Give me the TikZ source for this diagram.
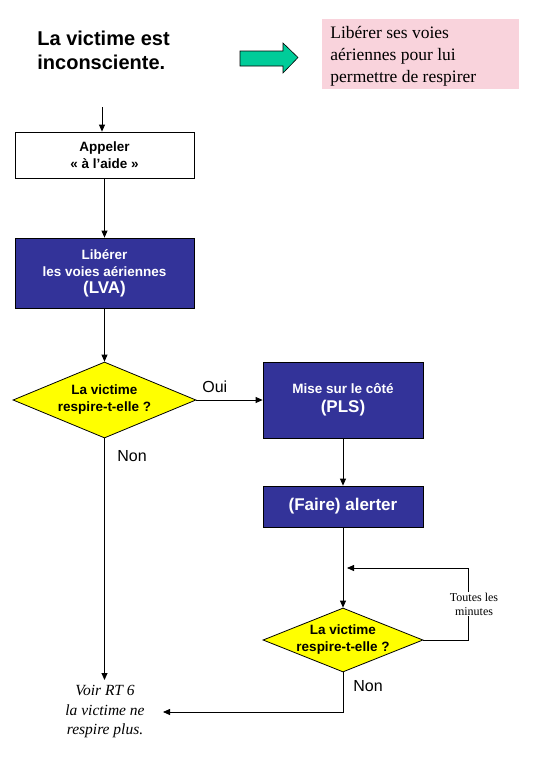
\documentclass[tikz,border=0pt]{standalone}
\usepackage{fontspec}
\setmainfont{Liberation Serif}
\setsansfont{Liberation Sans}
\usetikzlibrary{shapes.geometric,arrows.meta}
\definecolor{navybox}{HTML}{333399}
\definecolor{pinkbg}{HTML}{F9D3DC}
\definecolor{tealarrow}{HTML}{00CC99}
\definecolor{yellowdec}{HTML}{FFFF00}
\begin{document}
\begin{tikzpicture}[x=1pt,y=-1pt,
  line width=0.8pt,
  arr/.style={-{Triangle[length=7pt,width=6pt]}},
  smallsans/.style={font=\sffamily\bfseries\fontsize{13.5}{17}\selectfont},
  whitebox/.style={draw, fill=white, minimum width=179pt, inner sep=0pt, align=center, smallsans},
  bluebox/.style={draw, fill=navybox, text=white, minimum width=160pt, inner sep=0pt, align=center, smallsans},
  decision/.style={draw, diamond, fill=yellowdec, inner sep=0pt},
  dectext/.style={align=center, inner sep=0pt, smallsans},
  lbl/.style={font=\sffamily\fontsize{16}{18}\selectfont, inner sep=0pt}
]
\useasboundingbox (0,0) rectangle (537,769);

% title
\node[anchor=north west, align=left, inner sep=0pt,
      font=\sffamily\bfseries\fontsize{20}{24}\selectfont] (title) at (37,31) {La victime est\\inconsciente.};

% green arrow
\draw[fill=tealarrow, line width=0.6pt] (240,51) -- (283,51) -- (283,43) -- (298,57.5) -- (283,73) -- (283,66) -- (240,66) -- cycle;

% pink note
\node[fill=pinkbg, anchor=north west, minimum width=197pt, minimum height=70pt, inner sep=0pt] (note) at (322,19) {};
\node[anchor=north west, align=left, inner sep=0pt,
      font=\rmfamily\fontsize{17.5}{22}\selectfont] (notetext) at (330,26) {Libérer ses voies\\aériennes pour lui\\permettre de respirer};

% boxes
\node[whitebox, minimum height=46pt] (app) at (104.5,155) {Appeler\\« à l’aide »};
\node[whitebox, fill=navybox, text=white, minimum height=70pt] (lva) at (104.5,273) {Libérer\\les voies aériennes\\{\fontsize{17}{20}\selectfont (LVA)}};
\node[decision, minimum width=183pt, minimum height=76pt, aspect=2.4] (d1) at (104.5,400) {};
\node[dectext] (d1t) at (d1) {La victime\\respire-t-elle ?};
\node[bluebox, minimum height=76pt] (pls) at (343,400) {Mise sur le côté\\[2pt]{\fontsize{17}{20}\selectfont (PLS)}};
\node[bluebox, minimum height=41pt, font=\sffamily\bfseries\fontsize{17}{20}\selectfont] (alert) at (343,506.5) {(Faire) alerter};
\node[decision, minimum width=160pt, minimum height=64pt, aspect=2.5] (d2) at (343,640) {};
\node[dectext] (d2t) at (d2) {La victime\\respire-t-elle ?};

% labels
\node[lbl, anchor=west] (oui) at (202,387) {Oui};
\node[lbl, anchor=west] (non1) at (117,456) {Non};
\node[lbl, anchor=west] (non2) at (353,686) {Non};

\node[align=center, inner sep=0pt, font=\rmfamily\itshape\fontsize{15.5}{19.5}\selectfont] (voir) at (105,712) {Voir RT 6\\la victime ne\\respire plus.};

% coordinates
\coordinate (start) at (102,107);
\coordinate (vtop) at (104.5,680);
\coordinate (vtip) at (163,712);
\coordinate (loopc) at (468,568);
\coordinate (joinp) at (347,568);
\coordinate (boty) at (343,712);

% connectors
\draw[arr] (start) -- (start |- app.north);
\draw[arr] (app.south) -- (lva.north);
\draw[arr] (lva.south) -- (d1.north);
\draw[arr] (d1.east) -- (pls.west);
\draw[arr] (pls.south) -- (alert.north);
\draw[arr] (alert.south) -- (d2.north);
\draw[arr] (d1.south) -- (vtop);
\draw[arr] (d2.south) -- (boty) -- (vtip);
\draw[arr] (d2.east) -- (d2.east -| loopc) -- (loopc) -- (joinp);

\node[fill=white, align=center, inner sep=1pt, font=\rmfamily\fontsize{12}{14}\selectfont] (toutes) at (474,604) {Toutes les\\minutes};
\end{tikzpicture}
\end{document}
